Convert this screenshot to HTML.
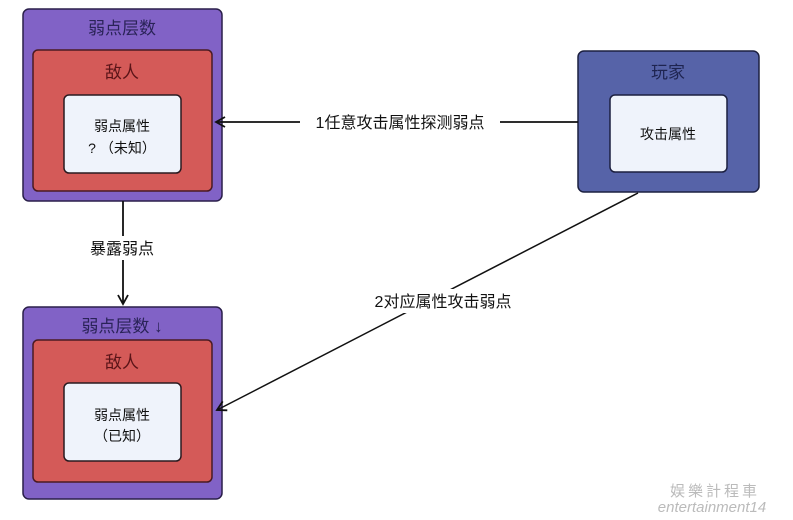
<!DOCTYPE html>
<html><head><meta charset="utf-8"><style>
html,body{margin:0;padding:0;background:#fff;width:793px;height:520px;overflow:hidden}
svg text{font-family:"Liberation Sans","Noto Sans CJK SC",sans-serif}
</style></head><body>
<svg width="793" height="520" viewBox="0 0 793 520" xmlns="http://www.w3.org/2000/svg">
<defs>
<marker id="ah" markerWidth="12" markerHeight="12" refX="10" refY="6" orient="auto" markerUnits="userSpaceOnUse">
<path d="M1,1 L10,6 L1,11" fill="none" stroke="#111" stroke-width="1.8"/>
</marker>
</defs>
<rect x="23" y="9" width="199" height="192" rx="6" fill="#8162c6" stroke="#2a1f4a" stroke-width="1.5"/>
<text x="122" y="34" font-size="17" text-anchor="middle" fill="#2a2358">弱点层数</text>
<rect x="33" y="50" width="179" height="141" rx="5" fill="#d45a58" stroke="#4a1a22" stroke-width="1.5"/>
<text x="122" y="78" font-size="17" text-anchor="middle" fill="#5a1418">敌人</text>
<rect x="64" y="95" width="117" height="78" rx="5" fill="#eff3fb" stroke="#2a1a20" stroke-width="1.5"/>
<text x="122" y="131" font-size="14" text-anchor="middle" fill="#111">弱点属性</text>
<text x="122" y="153" font-size="14" text-anchor="middle" fill="#111">?  （未知）</text>
<rect x="23" y="307" width="199" height="192" rx="6" fill="#8162c6" stroke="#2a1f4a" stroke-width="1.5"/>
<text x="122" y="332" font-size="17" text-anchor="middle" fill="#2a2358">弱点层数 ↓</text>
<rect x="33" y="340" width="179" height="142" rx="5" fill="#d45a58" stroke="#4a1a22" stroke-width="1.5"/>
<text x="122" y="368" font-size="17" text-anchor="middle" fill="#5a1418">敌人</text>
<rect x="64" y="383" width="117" height="78" rx="5" fill="#eff3fb" stroke="#2a1a20" stroke-width="1.5"/>
<text x="122" y="420" font-size="14" text-anchor="middle" fill="#111">弱点属性</text>
<text x="122" y="441" font-size="14" text-anchor="middle" fill="#111">（已知）</text>
<rect x="578" y="51" width="181" height="141" rx="6" fill="#5663a8" stroke="#1c2040" stroke-width="1.5"/>
<text x="668" y="78" font-size="17" text-anchor="middle" fill="#1e2450">玩家</text>
<rect x="610" y="95" width="117" height="77" rx="5" fill="#eff3fb" stroke="#1c2040" stroke-width="1.5"/>
<text x="668" y="139" font-size="14" text-anchor="middle" fill="#111">攻击属性</text>
<line x1="578" y1="122" x2="216" y2="122" stroke="#111" stroke-width="1.8" marker-end="url(#ah)"/>
<rect x="300" y="110" width="200" height="24" fill="#fff"/>
<text x="400" y="128" font-size="16" text-anchor="middle" fill="#111">1任意攻击属性探测弱点</text>
<line x1="123" y1="201" x2="123" y2="304" stroke="#111" stroke-width="1.8" marker-end="url(#ah)"/>
<rect x="82" y="236" width="82" height="24" fill="#fff"/>
<text x="122" y="254" font-size="16" text-anchor="middle" fill="#111">暴露弱点</text>
<line x1="638" y1="193" x2="217" y2="410" stroke="#111" stroke-width="1.5" marker-end="url(#ah)"/>
<rect x="366" y="289" width="155" height="24" fill="#fff"/>
<text x="443" y="307" font-size="16" text-anchor="middle" fill="#111">2对应属性攻击弱点</text>
<text x="715" y="496" font-size="15" text-anchor="middle" fill="#bbb" font-family="'Noto Serif CJK SC',serif" letter-spacing="3">娱樂計程車</text>
<text x="712" y="512" font-size="15" text-anchor="middle" fill="#bbb" font-style="italic" font-family="'Liberation Serif',serif">entertainment14</text>
</svg>
</body></html>
